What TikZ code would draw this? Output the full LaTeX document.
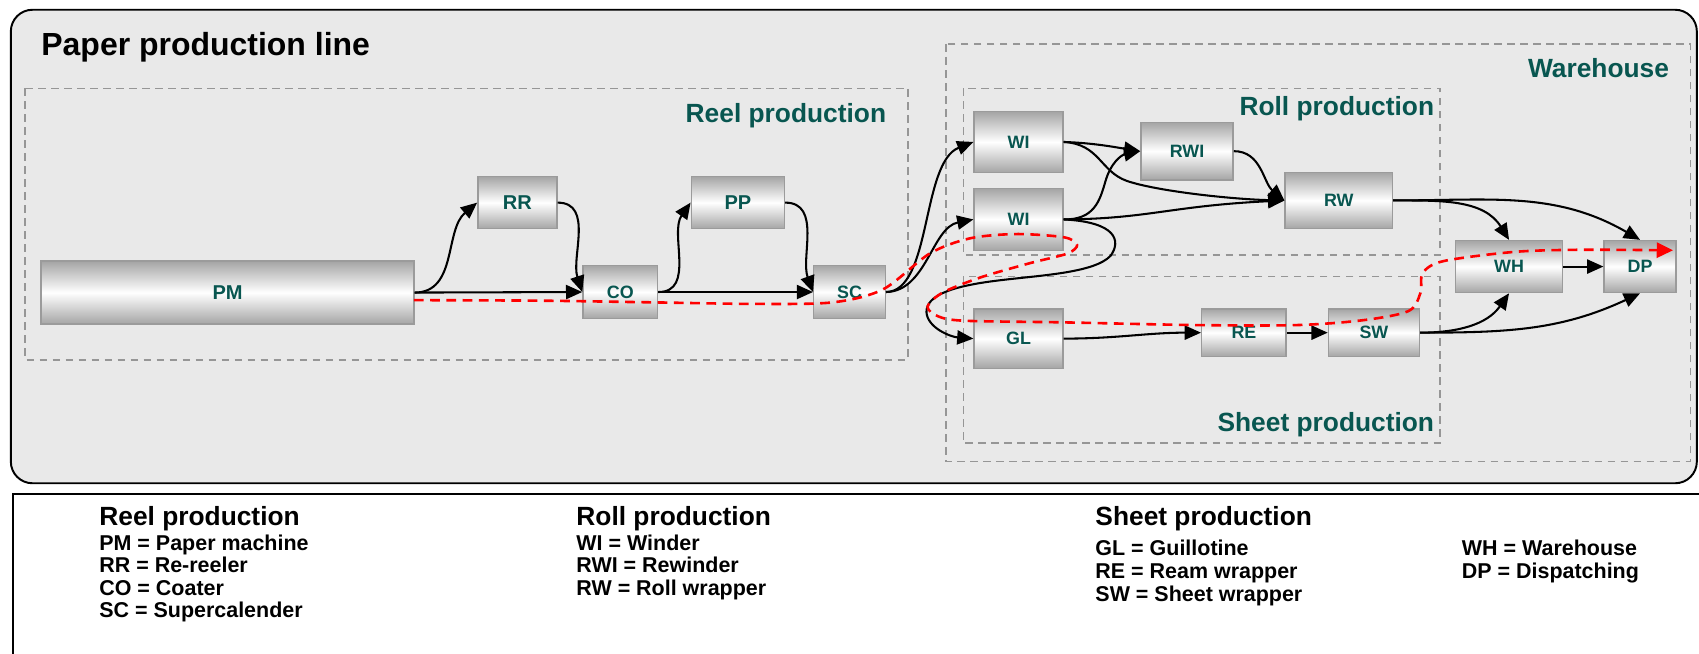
\documentclass[tikz,border=0pt]{standalone}
\usepackage{fontspec}
\setmainfont{Liberation Sans}
\usetikzlibrary{arrows.meta}
\definecolor{labteal}{RGB}{8,86,80}
\definecolor{framebg}{RGB}{233,233,233}
\definecolor{boxgray}{RGB}{165,165,165}
\definecolor{boxedge}{RGB}{155,155,155}
\definecolor{dashgray}{RGB}{150,150,150}
\begin{document}
\begin{tikzpicture}[x=1pt,y=1pt,
  box/.style={draw=boxedge, line width=1.3pt, top color=boxgray, bottom color=boxgray, middle color=white,
    inner sep=0pt, text=labteal, font=\fontsize{16.5}{18}\selectfont\bfseries},
  bigbox/.style={box, font=\fontsize{18.5}{20}\selectfont\bfseries},
  conn/.style={line width=1.9pt, -{Triangle[length=15pt,width=13pt]}},
  grp/.style={draw=dashgray, line width=1.4pt, dash pattern=on 7pt off 5pt},
  grplabel/.style={anchor=base east, inner sep=0pt, text=labteal, font=\fontsize{24.3}{26}\selectfont\bfseries},
  leghead/.style={anchor=base west, inner sep=0pt, font=\fontsize{24.3}{26}\selectfont\bfseries},
  legitem/.style={anchor=base west, inner sep=0pt, font=\fontsize{19.8}{21}\selectfont\bfseries},
  redpath/.style={draw=red, line width=2.4pt, dash pattern=on 9pt off 6pt, -{Triangle[length=15pt,width=14pt,fill=red]}}
]
\useasboundingbox (0,0) rectangle (1568,-603);
% main frame
\draw[fill=framebg, line width=1.8pt, rounded corners=20pt] (10,-9) rectangle (1566,-446);
% legend frame
\draw[line width=1.8pt] (12,-615) -- (12,-456) -- (1580,-456);
% title
\node[anchor=base west, inner sep=0pt, font=\fontsize{29.5}{32}\selectfont\bfseries] (title) at (38,-51) {Paper production line};
% group boxes
\draw[grp] (23,-81.5) rectangle (838,-332);
\draw[grp] (873,-40.6) rectangle (1560,-426);
\draw[grp] (889,-81.5) rectangle (1329,-235.4);
\draw[grp] (889,-255) rectangle (1329,-409);
\node[grplabel] (lreel) at (818,-113) {Reel production};
\node[grplabel] (lroll) at (1323.7,-107) {Roll production};
\node[grplabel] (lsheet) at (1323.7,-398.6) {Sheet production};
\node[grplabel] (lwh) at (1540.5,-71.7) {Warehouse};
% nodes
\node[bigbox, minimum width=344pt, minimum height=58pt] (PM) at (210,-270) {PM};
\node[bigbox, minimum width=73pt, minimum height=48pt] (RR) at (477.5,-187) {RR};
\node[box, minimum width=69pt, minimum height=49pt] (CO) at (572.5,-269.5) {CO};
\node[bigbox, minimum width=86pt, minimum height=48pt] (PP) at (681,-187) {PP};
\node[box, minimum width=66pt, minimum height=49pt] (SC) at (784,-269.5) {SC};
\node[box, minimum width=82pt, minimum height=56pt] (WI1) at (940,-131) {WI};
\node[box, minimum width=82pt, minimum height=57pt] (WI2) at (940,-202.5) {WI};
\node[box, minimum width=85pt, minimum height=53pt] (RWI) at (1095.5,-139.5) {RWI};
\node[box, minimum width=99pt, minimum height=52pt] (RW) at (1235.5,-185) {RW};
\node[box, minimum width=82pt, minimum height=55pt] (GL) at (940,-312.5) {GL};
\node[box, minimum width=78pt, minimum height=44pt] (RE) at (1148,-307) {RE};
\node[box, minimum width=84pt, minimum height=44pt] (SW) at (1268,-307) {SW};
\node[box, minimum width=98.5pt, minimum height=48pt] (WH) at (1392.7,-246) {WH};
\node[box, minimum width=66.4pt, minimum height=48pt] (DP) at (1513.6,-246) {DP};
% connectors
\draw[conn] (PM.east) to[out=0,in=220] (RR.west);
\draw[conn] (PM.east) -- (CO.west);
\draw[conn] (RR.east) to[out=0,in=108] (CO.west);
\draw[conn] (CO.east) to[out=0,in=235] (PP.west);
\draw[conn] (CO.east) -- (SC.west);
\draw[conn] (PP.east) to[out=0,in=110] (SC.west);
\draw[conn] (SC.east) .. controls (860,-269) and (850,-150) .. (WI1.west);
\draw[conn] (SC.east) .. controls (855,-269) and (860,-210) .. (WI2.west);
\draw[conn] (WI2.east) .. controls (1030,-205) and (1035,-222) .. (1025,-236)
   .. controls (1010,-252) and (960,-254) .. (920,-259)
   .. controls (880,-264) and (855,-272) .. (855,-288)
   .. controls (856,-303) and (878,-311) .. (GL.west);
\draw[conn] (WI1.east) .. controls (1010,-132) and (1030,-136) .. (RWI.west);
\draw[conn] (WI1.east) .. controls (1015,-133) and (1015,-158) .. (1040,-167)
   .. controls (1070,-177) and (1140,-184) .. (RW.west);
\draw[conn] (WI2.east) .. controls (1010,-203) and (1015,-185) .. (1020,-168)
   .. controls (1025,-150) and (1035,-143) .. (RWI.west);
\draw[conn] (WI2.east) .. controls (1060,-202) and (1080,-190) .. (RW.west);
\draw[conn] (RWI.east) to[out=0,in=140] (RW.west);
\draw[conn] (RW.east) to[out=0,in=122] (WH.north);
\draw[conn] (RW.east) to[out=0,in=150] (DP.north);
\draw[conn] (WH.east) -- (DP.west);
\draw[conn] (SW.east) to[out=0,in=235] (WH.south);
\draw[conn] (SW.east) to[out=0,in=205] (DP.south);
\draw[conn] (GL.east) to[out=0,in=180] (RE.west);
\draw[conn] (RE.east) -- (SW.west);
% red flow path
\draw[redpath] plot[smooth, tension=0.5] coordinates {
 (382,-277) (500,-277.5) (600,-279) (700,-280.5) (769,-279) (815,-267) (858,-234) (895,-220)
 (938,-216) (982,-219) (994,-226) (985,-234) (950,-243) (905,-256) (870,-270) (856,-283)
 (866,-292) (890,-296) (981,-297.5) (1104,-300) (1197,-300) (1258,-295.5) (1300,-287)
 (1311,-270) (1313,-252) (1332,-241) (1397,-232.5) (1458,-230.5) (1544,-231)};
% legend
\node[leghead] (h1) at (91.5,-485) {Reel production};
\node[legitem] (a1) at (91.5,-507.6) {PM = Paper machine};
\node[legitem] (a2) at (91.5,-528.4) {RR = Re-reeler};
\node[legitem] (a3) at (91.5,-549.2) {CO = Coater};
\node[legitem] (a4) at (91.5,-570) {SC = Supercalender};
\node[leghead] (h2) at (531.8,-485) {Roll production};
\node[legitem] (b1) at (531.8,-507.6) {WI = Winder};
\node[legitem] (b2) at (531.8,-528.4) {RWI = Rewinder};
\node[legitem] (b3) at (531.8,-549.2) {RW = Roll wrapper};
\node[leghead] (h3) at (1010.8,-485) {Sheet production};
\node[legitem] (c1) at (1010.8,-512.2) {GL = Guillotine};
\node[legitem] (c2) at (1010.8,-533.5) {RE = Ream wrapper};
\node[legitem] (c3) at (1010.8,-554.8) {SW = Sheet wrapper};
\node[legitem] (d1) at (1349,-512.2) {WH = Warehouse};
\node[legitem] (d2) at (1349,-533.5) {DP = Dispatching};
\end{tikzpicture}
\end{document}
